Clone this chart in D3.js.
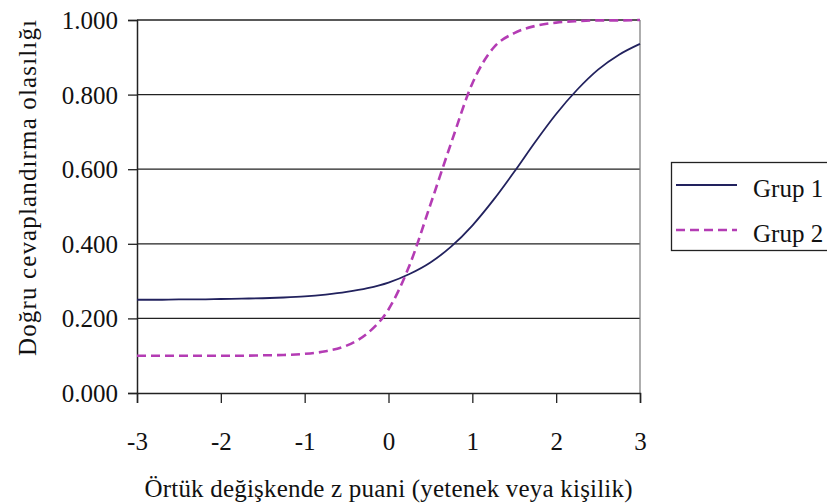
<!DOCTYPE html>
<html>
<head>
<meta charset="utf-8">
<script src="https://cdn.jsdelivr.net/npm/d3@7"></script>
<style>
  body { margin: 0; background: #fff; }
</style>
</head>
<body>
<div id="chart"></div>
<script>
// values
var zValues = [-3, -2.75, -2.5, -2.25, -2, -1.75, -1.5, -1.25, -1, -0.75, -0.5, -0.25,
  0, 0.25, 0.5, 0.75, 1, 1.25, 1.5, 1.75, 2, 2.25, 2.5, 2.75, 3];
var grup1 = [0.250, 0.250, 0.251, 0.251, 0.252, 0.253, 0.254, 0.256, 0.259, 0.264, 0.271, 0.281,
  0.296, 0.319, 0.350, 0.393, 0.449, 0.517, 0.593, 0.673, 0.748, 0.813, 0.867, 0.907, 0.936];
var grup2 = [0.100, 0.100, 0.100, 0.100, 0.100, 0.100, 0.101, 0.102, 0.105, 0.112, 0.127, 0.160,
  0.224, 0.342, 0.505, 0.672, 0.830, 0.925, 0.965, 0.984, 0.993, 0.997, 0.999, 0.999, 1.000];
var seriesNames = ["Grup 1", "Grup 2"];
var xTicks = [-3, -2, -1, 0, 1, 2, 3];
var yTicks = [0, 0.2, 0.4, 0.6, 0.8, 1.0];

var w = 827, h = 503;
var margin = { top: 20, left: 137, right: 187, bottom: 110 };
var width = w - margin.left - margin.right;
var height = h - margin.top - margin.bottom;
var fontFam = "Liberation Serif";
var fontSize = 25;

var svg = d3.select("#chart").append("svg")
  .attr("width", w)
  .attr("height", h);

var chartGroup = svg.append("g")
  .attr("transform", `translate(${margin.left}, ${margin.top})`);

var xScale = d3.scaleLinear().domain([-3, 3]).range([0, width]);
var yScale = d3.scaleLinear().domain([0, 1]).range([height, 0]);

// gridlines
chartGroup.selectAll("line.grid")
  .data(yTicks.slice(1))
  .enter()
  .append("line")
  .attr("class", "grid")
  .attr("x1", 0)
  .attr("x2", width)
  .attr("y1", d => yScale(d))
  .attr("y2", d => yScale(d))
  .attr("stroke", "#222")
  .attr("stroke-width", 1.3);

// right border of plot area
chartGroup.append("line")
  .attr("x1", width).attr("x2", width)
  .attr("y1", 0).attr("y2", height)
  .attr("stroke", "#777")
  .attr("stroke-width", 1.2);

// axes
var leftAxis = d3.axisLeft(yScale)
  .tickValues(yTicks)
  .tickFormat(d3.format(".3f"))
  .tickSize(9)
  .tickPadding(10);
var bottomAxis = d3.axisBottom(xScale)
  .tickValues(xTicks)
  .tickFormat(d => String(d))
  .tickSize(10);

var yAxis = chartGroup.append("g").call(leftAxis);
var xAxis = chartGroup.append("g")
  .attr("transform", `translate(0, ${height})`)
  .call(bottomAxis);

[yAxis, xAxis].forEach(function(ax) {
  ax.attr("font-family", null).attr("font-size", null);
  ax.select(".domain").attr("stroke", "#222").attr("stroke-width", 1.5);
  ax.selectAll(".tick line").attr("stroke", "#222").attr("stroke-width", 1.3);
  ax.selectAll("text")
    .attr("font-family", fontFam)
    .attr("font-size", fontSize)
    .attr("fill", "#111");
});
xAxis.selectAll("text").attr("y", 57).attr("dy", 0);
yAxis.selectAll("text").attr("dy", "0.34em");

// curves
var line = d3.line()
  .x((d, i) => xScale(zValues[i]))
  .y(d => yScale(d))
  .curve(d3.curveMonotoneX);

chartGroup.append("path")
  .datum(grup1)
  .attr("d", line)
  .attr("fill", "none")
  .attr("stroke", "#22225e")
  .attr("stroke-width", 1.8);

chartGroup.append("path")
  .datum(grup2)
  .attr("d", line)
  .attr("fill", "none")
  .attr("stroke", "#b43cb4")
  .attr("stroke-width", 2.6)
  .attr("stroke-dasharray", "9,5");

// axis titles
svg.append("text")
  .attr("transform", `translate(36, 188) rotate(-90)`)
  .attr("text-anchor", "middle")
  .attr("font-family", fontFam)
  .attr("font-size", fontSize)
  .attr("textLength", 336)
  .attr("lengthAdjust", "spacing")
  .attr("fill", "#111")
  .text("Doğru cevaplandırma olasılığı");

svg.append("text")
  .attr("x", margin.left + width / 2)
  .attr("y", 497)
  .attr("text-anchor", "middle")
  .attr("font-family", fontFam)
  .attr("font-size", fontSize)
  .attr("textLength", 488)
  .attr("lengthAdjust", "spacing")
  .attr("fill", "#111")
  .text("Örtük değişkende z puani (yetenek veya kişilik)");

// legend
var legend = svg.append("g");
legend.append("rect")
  .attr("x", 671.5).attr("y", 162.5)
  .attr("width", 160).attr("height", 88)
  .attr("fill", "#fff")
  .attr("stroke", "#222")
  .attr("stroke-width", 1.3);

var legendItems = legend.selectAll("g.item")
  .data(seriesNames)
  .enter()
  .append("g")
  .attr("class", "item")
  .attr("transform", (d, i) => `translate(676, ${185 + i * 45})`);

legendItems.append("line")
  .attr("x1", 0).attr("x2", 61)
  .attr("y1", 0).attr("y2", 0)
  .attr("stroke", (d, i) => i === 0 ? "#22225e" : "#b43cb4")
  .attr("stroke-width", (d, i) => i === 0 ? 1.8 : 2.6)
  .attr("stroke-dasharray", (d, i) => i === 0 ? null : "9,5");

legendItems.append("text")
  .attr("x", 77)
  .attr("y", 12)
  .attr("font-family", fontFam)
  .attr("font-size", fontSize)
  .attr("fill", "#111")
  .text(d => d);
</script>
</body>
</html>
